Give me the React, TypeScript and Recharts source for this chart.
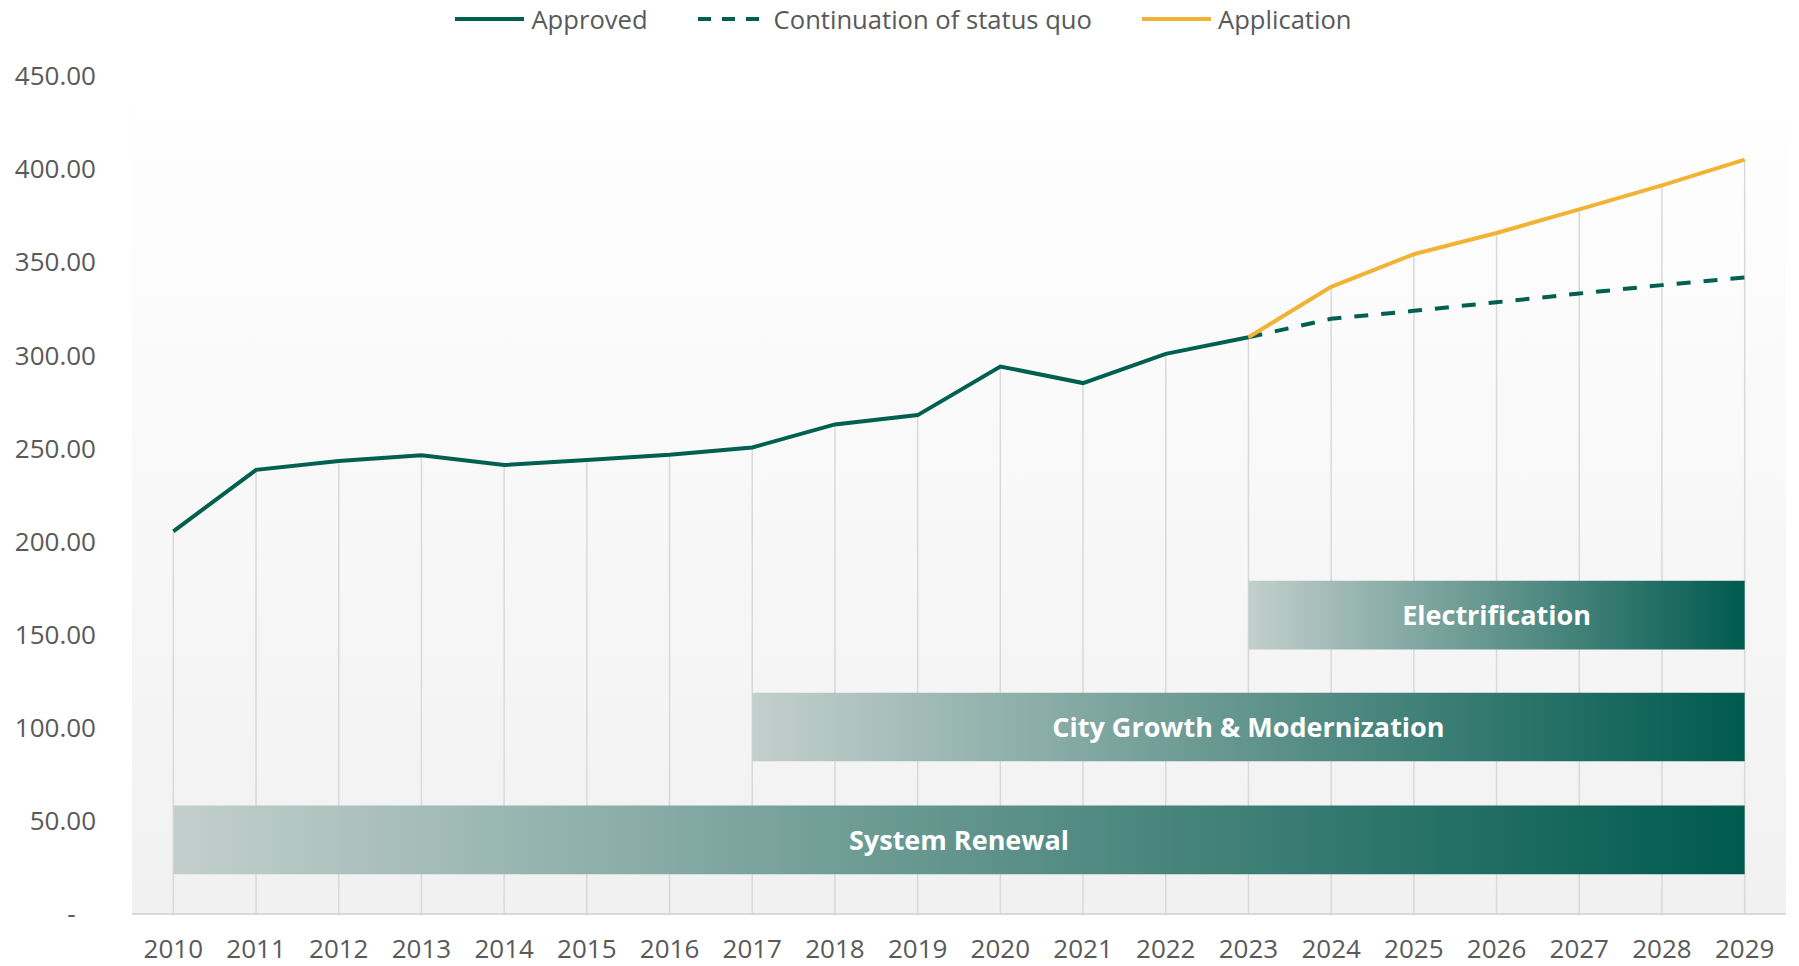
import {
  ComposedChart,
  Line,
  XAxis,
  YAxis,
  CartesianGrid,
  Legend,
  ReferenceArea,
} from 'recharts';

const years = [2010, 2011, 2012, 2013, 2014, 2015, 2016, 2017, 2018, 2019, 2020, 2021, 2022, 2023, 2024, 2025, 2026, 2027, 2028, 2029];
const approved = [205.5, 238.5, 243.3, 246.4, 241.1, 243.8, 246.6, 250.5, 262.9, 267.9, 294.0, 285.1, 300.8, 309.7, null, null, null, null, null, null];
const statusQuo = [null, null, null, null, null, null, null, null, null, null, null, null, null, 309.7, 319.6, 323.9, 328.5, 333.2, 337.7, 341.8];
const application = [null, null, null, null, null, null, null, null, null, null, null, null, null, 309.7, 336.8, 354.3, 365.7, 378.4, 391.3, 405.1];
const yTicks = [0, 50, 100, 150, 200, 250, 300, 350, 400, 450];

const seriesNames = ['Approved', 'Continuation of status quo', 'Application'];

const bandNames = ['System Renewal', 'City Growth & Modernization', 'Electrification'];
const bandStart = [2010, 2017, 2023];
const bandEnd = [2029, 2029, 2029];
const bandLow = [21.3, 82, 142];
const bandHigh = [58.2, 118.8, 178.9];

const GREEN = '#00604F';
const ORANGE = '#F2B233';
const FONT = '"Open Sans", sans-serif';
const TEXT = '#595959';

const data = years.map((year, i) => ({
  year,
  approved: approved[i],
  statusQuo: statusQuo[i],
  application: application[i],
}));

// drop line top = highest value shown at that year
const dropTops = years.map((_, i) =>
  Math.max(...[approved[i], statusQuo[i], application[i]].filter((v): v is number => v != null))
);
const DROP_HALF = 0.009; // half of the drop line width, in years (~1.5px)

const legendStyles = [
  { color: GREEN, dash: undefined as string | undefined },
  { color: GREEN, dash: '13 11' },
  { color: ORANGE, dash: undefined as string | undefined },
];

const TopLegend = () => (
  <div
    style={{
      height: 76,
      display: 'flex',
      justifyContent: 'center',
      alignItems: 'flex-start',
      gap: 50,
      fontFamily: FONT,
      fontSize: 25.6,
      color: TEXT,
      paddingLeft: 8,
    }}
  >
    {seriesNames.map((name, i) => (
      <div key={name} style={{ display: 'flex', alignItems: 'center', gap: 7, height: 38 }}>
        <svg width={69} height={6}>
          <line
            x1={0}
            y1={3}
            x2={69}
            y2={3}
            stroke={legendStyles[i].color}
            strokeWidth={4}
            strokeDasharray={legendStyles[i].dash}
          />
        </svg>
        <span>{name}</span>
      </div>
    ))}
  </div>
);

export default function App() {
  return (
    <div style={{ position: 'absolute', left: 0, top: 0, background: '#fff' }}>
      <ComposedChart
        width={1799}
        height={966}
        data={data}
        margin={{ top: 0, right: 13, bottom: 0, left: 0 }}
      >
        <defs>
          <linearGradient id="plotBg" x1="0" y1="0" x2="0" y2="1">
            <stop offset="0%" stopColor="#ffffff" />
            <stop offset="100%" stopColor="#f1f1f1" />
          </linearGradient>
          <linearGradient id="bandFill" x1="0" y1="0" x2="1" y2="0">
            <stop offset="0%" stopColor="#c3cfcc" />
            <stop offset="100%" stopColor="#005a4e" />
          </linearGradient>
        </defs>
        <CartesianGrid horizontal={false} vertical={false} fill="url(#plotBg)" />
        <Legend
          verticalAlign="top"
          align="center"
          wrapperStyle={{ left: 0, width: 1799 }}
          content={() => <TopLegend />}
        />
        <XAxis
          dataKey="year"
          type="number"
          domain={[2009.5, 2029.5]}
          ticks={years}
          interval={0}
          height={52}
          tickLine={false}
          tickMargin={20}
          axisLine={{ stroke: '#d9d9d9', strokeWidth: 2 }}
          tick={{ fill: TEXT, fontSize: 26, fontFamily: FONT }}
        />
        <YAxis
          domain={[0, 450]}
          ticks={yTicks}
          width={132}
          axisLine={false}
          tickLine={false}
          tickMargin={30}
          tick={{ fill: TEXT, fontSize: 26, fontFamily: FONT }}
          tickFormatter={(v: number) => (v === 0 ? '-\u00a0\u00a0\u00a0' : v.toFixed(2))}
        />
        {years.map((year, i) => (
          <ReferenceArea
            key={year}
            x1={year - DROP_HALF}
            x2={year + DROP_HALF}
            y1={0}
            y2={dropTops[i]}
            fill="#d9d9d9"
            fillOpacity={1}
            stroke="none"
          />
        ))}
        {bandNames.map((name, i) => (
          <ReferenceArea
            key={name}
            x1={bandStart[i]}
            x2={bandEnd[i]}
            y1={bandLow[i]}
            y2={bandHigh[i]}
            fill="url(#bandFill)"
            fillOpacity={1}
            stroke="none"
            label={{
              value: name,
              position: 'center',
              fill: '#ffffff',
              fontSize: 27,
              fontWeight: 700,
              fontFamily: FONT,
            }}
          />
        ))}
        <Line
          dataKey="approved"
          name={seriesNames[0]}
          stroke={GREEN}
          strokeWidth={4}
          dot={false}
          activeDot={false}
          isAnimationActive={false}
        />
        <Line
          dataKey="statusQuo"
          name={seriesNames[1]}
          stroke={GREEN}
          strokeWidth={4}
          strokeDasharray="14 13"
          dot={false}
          activeDot={false}
          isAnimationActive={false}
        />
        <Line
          dataKey="application"
          name={seriesNames[2]}
          stroke={ORANGE}
          strokeWidth={4}
          dot={false}
          activeDot={false}
          isAnimationActive={false}
        />
      </ComposedChart>
    </div>
  );
}
